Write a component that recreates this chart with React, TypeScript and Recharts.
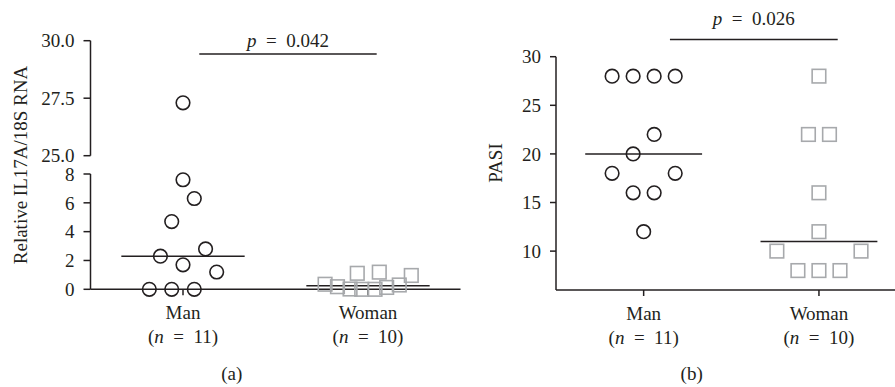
import { ScatterChart, Scatter, XAxis, YAxis, ReferenceLine } from "recharts";

const INK = "#231f20";
const GREY = "#a7a9ac";
const FONT = "'Liberation Serif', 'Times New Roman', serif";
const FS = 19;
const SP = "\u2002";

const groups = ["Man", "Woman"];
const groupNs = [11, 10];
const pValues = ["0.042", "0.026"];

// (a) relative IL17A/18S RNA
const manRna = [27.3, 7.6, 6.3, 4.7, 2.8, 2.3, 1.7, 1.2, 0, 0, 0];
const manRnaJitter = [0, 0, 0.061, -0.061, 0.122, -0.122, 0, 0.182, -0.182, -0.061, 0.061];
const womanRna = [0.35, 0.18, 0.02, 1.11, 0, 0, 1.19, 0.13, 0.3, 0.96];
const womanRnaJitter = [-0.232, -0.165, -0.097, -0.058, -0.034, 0.038, 0.061, 0.101, 0.169, 0.234];

// (b) PASI
const manPasi = [28, 28, 28, 28, 22, 20, 18, 18, 16, 16, 12];
const manPasiJitter = [-0.18, -0.06, 0.06, 0.18, 0.06, -0.06, -0.18, 0.18, -0.06, 0.06, 0];
const womanPasi = [28, 22, 22, 16, 12, 10, 10, 8, 8, 8];
const womanPasiJitter = [0, -0.06, 0.06, 0, 0, -0.24, 0.24, -0.12, 0, 0.12];

const rnaTicksLow = [0, 2, 4, 6, 8];
const rnaTicksHigh = [25, 27.5, 30];
const pasiTicks = [10, 15, 20, 25, 30];

function median(vals: number[]) {
  const s = [...vals].sort((a, b) => a - b);
  const m = Math.floor(s.length / 2);
  return s.length % 2 ? s[m] : (s[m - 1] + s[m]) / 2;
}

function points(vals: number[], jitter: number[], group: number, keep: (v: number) => boolean = () => true) {
  return vals.map((v, i) => ({ x: group + jitter[i], y: v })).filter((d) => keep(d.y));
}

const Circle = (props: any) => (
  <circle cx={props.cx} cy={props.cy} r={6.8} fill="none" stroke={INK} strokeWidth={1.6} />
);
const Square = (props: any) => (
  <rect x={props.cx - 6.8} y={props.cy - 6.8} width={13.6} height={13.6} fill="none" stroke={GREY} strokeWidth={1.6} />
);

function GroupTick(props: any) {
  const { x, y, payload } = props;
  const i = payload.value - 1;
  return (
    <text x={x} y={y} textAnchor="middle" fill={INK} fontSize={FS} fontFamily={FONT}>
      <tspan x={x} dy={22}>{groups[i]}</tspan>
      <tspan x={x} dy={24}>
        (<tspan fontStyle="italic">n</tspan>{SP}={SP}{groupNs[i]})
      </tspan>
    </text>
  );
}

function PLabel(props: any) {
  const { viewBox, p, gap } = props;
  const cx = viewBox.x + viewBox.width / 2;
  return (
    <text x={cx} y={viewBox.y - gap} textAnchor="middle" fill={INK} fontSize={FS} fontFamily={FONT}>
      <tspan fontStyle="italic">p</tspan>{SP}={SP}{p}
    </text>
  );
}

const axisStyle = { stroke: INK, strokeWidth: 1.5 };
const tickFont = { fontSize: FS, fill: INK, fontFamily: FONT };

export default function App() {
  const medRna = [median(manRna), median(womanRna)];
  const medPasi = [median(manPasi), median(womanPasi)];

  return (
    <div style={{ position: "absolute", left: 0, top: 0, width: 895, height: 387, overflow: "hidden", background: "#fff", fontFamily: FONT }}>
      {/* (a) upper segment of the broken axis */}
      <div style={{ position: "absolute", left: 0, top: 0 }}>
        <ScatterChart width={470} height={175} margin={{ top: 40.7, right: 9.5, bottom: 19.3, left: 0 }}>
          <XAxis type="number" dataKey="x" domain={[0.5, 2.5]} hide />
          <YAxis
            type="number"
            dataKey="y"
            domain={[25, 30]}
            ticks={rnaTicksHigh}
            interval={0}
            tickFormatter={(v: number) => v.toFixed(1)}
            width={90.5}
            axisLine={axisStyle}
            tickLine={axisStyle}
            tickSize={7}
            tickMargin={9}
            tick={tickFont}
          />
          <Scatter data={points(manRna, manRnaJitter, 1, (v) => v >= 25)} shape={Circle} isAnimationActive={false} />
          <ReferenceLine
            segment={[{ x: 1.088, y: 29.42 }, { x: 2.047, y: 29.42 }]}
            stroke={INK}
            strokeWidth={1.5}
            label={(p: any) => <PLabel {...p} p={pValues[0]} gap={7} />}
          />
        </ScatterChart>
      </div>

      {/* (a) lower segment */}
      <div style={{ position: "absolute", left: 0, top: 0 }}>
        <ScatterChart width={470} height={350} margin={{ top: 174, right: 9.5, bottom: 0, left: 0 }}>
          <XAxis
            type="number"
            dataKey="x"
            domain={[0.5, 2.5]}
            ticks={[1, 2]}
            interval={0}
            height={60.7}
            axisLine={axisStyle}
            tickLine={axisStyle}
            tickSize={6}
            tick={<GroupTick />}
          />
          <YAxis
            type="number"
            dataKey="y"
            domain={[0, 8]}
            ticks={rnaTicksLow}
            interval={0}
            width={90.5}
            axisLine={axisStyle}
            tickLine={axisStyle}
            tickSize={7}
            tickMargin={9}
            tick={tickFont}
          />
          {medRna.map((m, i) => (
            <ReferenceLine key={i} segment={[{ x: i + 1 - 1 / 3, y: m }, { x: i + 1 + 1 / 3, y: m }]} stroke={INK} strokeWidth={1.5} />
          ))}
          <Scatter data={points(manRna, manRnaJitter, 1, (v) => v <= 8)} shape={Circle} isAnimationActive={false} />
          <Scatter data={points(womanRna, womanRnaJitter, 2)} shape={Square} isAnimationActive={false} />
        </ScatterChart>
      </div>

      {/* (b) PASI */}
      <div style={{ position: "absolute", left: 460, top: 0 }}>
        <ScatterChart width={450} height={350} margin={{ top: 56.7, right: 3.4, bottom: 0, left: 0 }}>
          <XAxis
            type="number"
            dataKey="x"
            domain={[0.5, 2.5]}
            ticks={[1, 2]}
            interval={0}
            height={60}
            axisLine={axisStyle}
            tickLine={axisStyle}
            tickSize={6}
            tick={<GroupTick />}
          />
          <YAxis
            type="number"
            dataKey="y"
            domain={[6, 30]}
            ticks={pasiTicks}
            interval={0}
            width={96}
            axisLine={axisStyle}
            tickLine={axisStyle}
            tickSize={6}
            tickMargin={9}
            tick={tickFont}
          />
          {medPasi.map((m, i) => (
            <ReferenceLine key={i} segment={[{ x: i + 1 - 1 / 3, y: m }, { x: i + 1 + 1 / 3, y: m }]} stroke={INK} strokeWidth={1.5} />
          ))}
          <ReferenceLine
            segment={[{ x: 1.15, y: 31.78 }, { x: 2.107, y: 31.78 }]}
            ifOverflow="visible"
            stroke={INK}
            strokeWidth={1.5}
            label={(p: any) => <PLabel {...p} p={pValues[1]} gap={14} />}
          />
          <Scatter data={points(manPasi, manPasiJitter, 1)} shape={Circle} isAnimationActive={false} />
          <Scatter data={points(womanPasi, womanPasiJitter, 2)} shape={Square} isAnimationActive={false} />
        </ScatterChart>
      </div>

      {/* axis titles and panel captions */}
      <svg width={895} height={387} style={{ position: "absolute", left: 0, top: 0, pointerEvents: "none" }}>
        <text transform="translate(20,165) rotate(-90)" textAnchor="middle" dy="0.35em" fontSize={FS} fill={INK} fontFamily={FONT}>
          Relative IL17A/18S RNA
        </text>
        <text transform="translate(495,163) rotate(-90)" textAnchor="middle" dy="0.35em" fontSize={FS} fill={INK} fontFamily={FONT}>
          PASI
        </text>
        <text x={231.7} y={380} textAnchor="middle" fontSize={FS} fill={INK} fontFamily={FONT}>(a)</text>
        <text x={691.7} y={380} textAnchor="middle" fontSize={FS} fill={INK} fontFamily={FONT}>(b)</text>
      </svg>
    </div>
  );
}
